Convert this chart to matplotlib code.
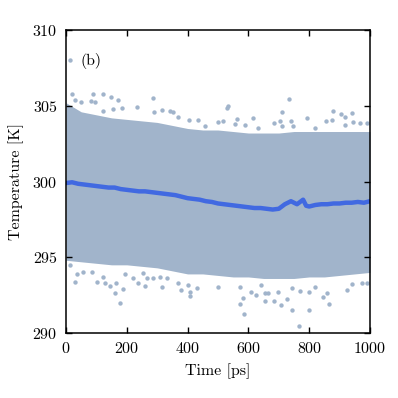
import matplotlib
matplotlib.use("Agg")
import matplotlib.pyplot as plt

plt.rcParams['font.family'] = 'cmr10'
plt.rcParams['axes.formatter.use_mathtext'] = True
plt.rcParams['mathtext.fontset'] = 'cm'

# Temperature cloud: envelope of the dense region
env_time = [0, 50, 100, 150, 200, 250, 300, 350, 400, 450, 500,
            550, 600, 650, 700, 750, 800, 850, 900, 950, 1000]
env_upper = [305.2, 304.6, 304.4, 304.2, 304.1, 304.0, 303.9, 303.7, 303.5, 303.4, 303.4,
             303.3, 303.2, 303.2, 303.2, 303.3, 303.3, 303.3, 303.3, 303.3, 303.3]
env_lower = [294.8, 294.7, 294.6, 294.5, 294.5, 294.4, 294.3, 294.1, 293.9, 293.9, 293.8,
             293.7, 293.7, 293.6, 293.6, 293.6, 293.7, 293.7, 293.8, 293.9, 294.0]

# Scattered samples outside the dense band
out_time = [19, 90, 121, 147, 171, 81, 94, 285, 123, 156, 183, 233, 290, 317, 29, 48,
            342, 353, 367, 405, 435, 534, 530, 517, 561, 616, 501, 457, 556, 589, 632,
            733, 711, 792, 879, 904, 918, 942, 685, 704, 709, 740, 748, 854, 874, 945,
            967, 989, 819, 918,
            30, 35, 55, 85, 101, 121, 128, 145, 164, 161, 186, 178, 221, 238, 260, 267,
            287, 309, 315, 194, 13, 252,
            331, 369, 378, 402, 408, 408, 432, 499, 572, 581, 572, 584, 608, 625, 654,
            654, 640,
            685, 707, 728, 744, 800, 767, 866, 846, 859, 923, 942, 973, 989, 770, 800,
            698, 742, 665, 819]
out_temp = [305.76, 305.78, 305.78, 305.56, 305.40, 305.33, 305.23, 305.53, 304.65, 304.79,
            304.87, 304.94, 304.61, 304.72, 305.38, 305.27,
            304.67, 304.61, 304.24, 304.06, 304.06, 304.98, 304.83, 304.01, 304.11, 304.17,
            303.91, 303.68, 303.80, 303.73, 303.51,
            305.43, 304.61, 304.17, 304.67, 304.46, 304.28, 304.54, 303.88, 304.01, 303.66,
            303.99, 303.68, 304.01, 304.06, 303.91, 303.88, 303.84, 303.51, 303.73,
            293.35, 293.88, 294.01, 294.05, 293.39, 293.72, 293.28, 293.12, 293.32, 292.66,
            292.89, 291.96, 293.61, 293.28, 293.12, 293.61, 293.61, 293.68, 293.06, 293.88,
            294.49, 293.94,
            293.65, 293.28, 292.84, 293.17, 292.73, 292.44, 292.95, 293.02, 293.06, 292.29,
            291.92, 291.26, 292.69, 292.51, 292.66, 292.11, 293.17,
            292.11, 291.85, 292.25, 291.52, 291.52, 290.46, 291.90, 292.40, 292.62, 292.84,
            293.22, 293.32, 293.28, 292.79, 292.73, 292.73, 292.99, 292.62, 293.06]

# Running average
avg_time = [0, 20, 40, 60, 80, 100, 120, 140, 160, 180, 200, 220, 240, 260, 280, 300,
            320, 340, 360, 380, 400, 420, 440, 460, 480, 500, 520, 540, 560, 580, 600,
            620, 640, 660, 680, 700, 720, 740, 760, 780, 790, 800, 820, 840, 860, 880,
            900, 920, 940, 960, 980, 1000]
avg_temp = [299.9, 299.95, 299.85, 299.8, 299.75, 299.7, 299.65, 299.6, 299.6, 299.5,
            299.45, 299.4, 299.35, 299.35, 299.3, 299.25, 299.2, 299.15, 299.1, 299.0,
            298.9, 298.85, 298.8, 298.7, 298.65, 298.55, 298.5, 298.45, 298.4, 298.35,
            298.3, 298.25, 298.25, 298.2, 298.15, 298.2, 298.5, 298.7, 298.5, 298.8,
            298.4, 298.35, 298.45, 298.5, 298.5, 298.55, 298.55, 298.6, 298.6, 298.65,
            298.6, 298.7]

cloud_color = "#a1b4cb"
line_color = "#4169e1"

fig = plt.figure(figsize=(3.98, 3.98), dpi=100)
ax = fig.add_axes([0.1658, 0.1633, 0.7638, 0.7613])

ax.fill_between(env_time, env_lower, env_upper, color=cloud_color, linewidth=0)
pts = ax.scatter(out_time, out_temp, s=10, color=cloud_color, linewidths=0, label="(b)")
ax.plot(avg_time, avg_temp, color=line_color, linewidth=3.2)

ax.set_xlim(0, 1000)
ax.set_ylim(290, 310)
ax.set_xticks([0, 200, 400, 600, 800, 1000])
ax.set_yticks([290, 295, 300, 305, 310])
ax.tick_params(direction="in", top=True, right=True, length=4, width=1, labelsize=11.5)
ax.tick_params(axis="y", pad=6)
ax.tick_params(axis="x", pad=6)
for sp in ax.spines.values():
    sp.set_linewidth(1.1)

ax.set_xlabel("Time [ps]", fontsize=11.5, labelpad=5)
ax.set_ylabel("Temperature [K]", fontsize=11.5, labelpad=6)

ax.legend(handles=[pts], loc="upper left", bbox_to_anchor=(-0.043, 0.973), frameon=False,
          handlelength=0.4, handletextpad=0.45, scatterpoints=1, fontsize=11.5)

fig.savefig("out.png", dpi=100)
